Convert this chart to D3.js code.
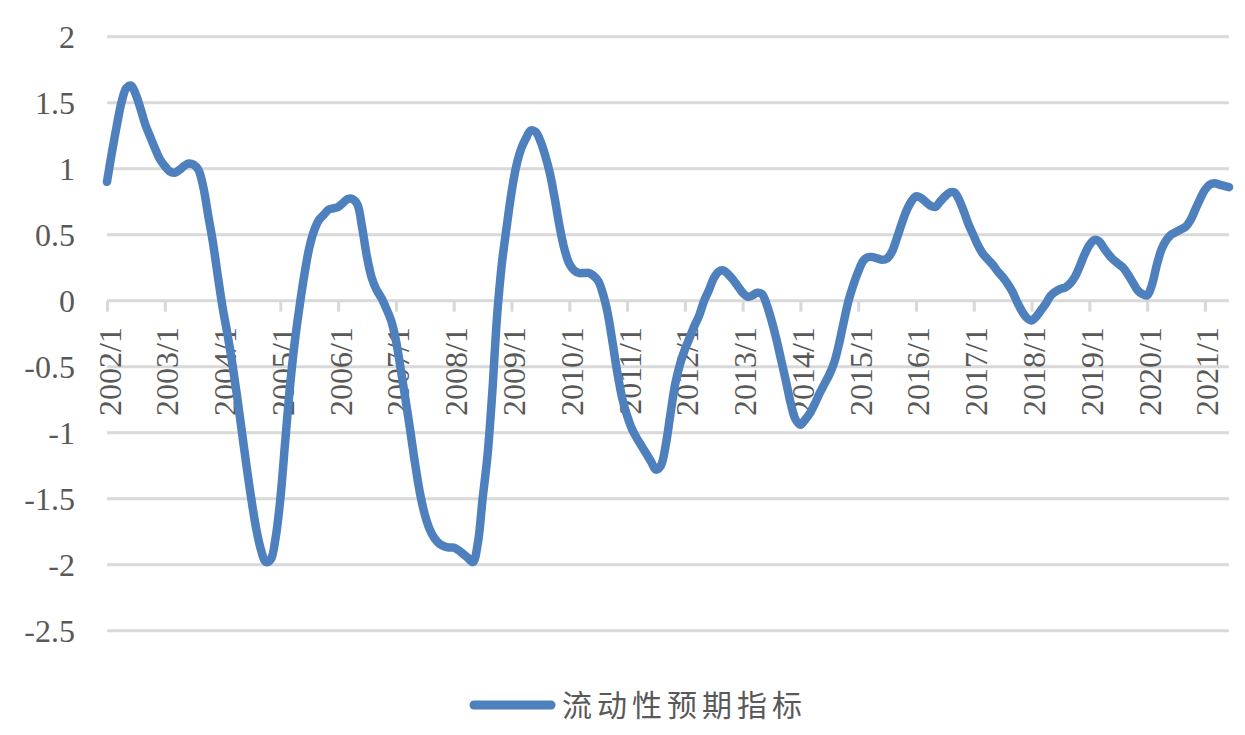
<!DOCTYPE html>
<html>
<head>
<meta charset="utf-8">
<script src="https://cdn.jsdelivr.net/npm/d3@7"></script>
<style>
  html, body { margin: 0; padding: 0; background: #ffffff; }
  svg { display: block; }
</style>
</head>
<body>
<svg id="chart" width="1245" height="735"></svg>
<script>
// ---- Data (monthly, 2002/1 .. 2021/6) ----
const startYear = 2002;
const startMonth = 1;
const seriesName = "流动性预期指标";
const values = [
  0.90, 1.12, 1.32, 1.50, 1.61, 1.63, 1.56, 1.45, 1.33, 1.24, 1.15, 1.07,
  1.02, 0.98, 0.97, 0.99, 1.02, 1.04, 1.03, 0.99, 0.86, 0.65, 0.44, 0.19,
  -0.05, -0.25, -0.47, -0.72, -0.99, -1.26, -1.51, -1.73, -1.89, -1.98, -1.96, -1.80,
  -1.50, -1.07, -0.65, -0.31, -0.04, 0.20, 0.40, 0.53, 0.61, 0.65, 0.69, 0.70,
  0.71, 0.74, 0.77, 0.77, 0.73, 0.55, 0.33, 0.17, 0.08, 0.02, -0.06, -0.15,
  -0.30, -0.52, -0.75, -0.99, -1.24, -1.46, -1.62, -1.73, -1.80, -1.84, -1.86, -1.87,
  -1.87, -1.89, -1.92, -1.95, -1.98, -1.84, -1.50, -1.18, -0.70, -0.12, 0.28, 0.56,
  0.82, 1.02, 1.15, 1.23, 1.29, 1.28, 1.21, 1.10, 0.96, 0.77, 0.56, 0.39,
  0.28, 0.23, 0.21, 0.21, 0.21, 0.19, 0.15, 0.05, -0.10, -0.32, -0.55, -0.74,
  -0.87, -0.97, -1.04, -1.10, -1.16, -1.22, -1.28, -1.25, -1.10, -0.86, -0.63, -0.48,
  -0.37, -0.28, -0.19, -0.11, 0.00, 0.08, 0.17, 0.22, 0.23, 0.20, 0.16, 0.11,
  0.06, 0.03, 0.04, 0.06, 0.05, -0.03, -0.15, -0.29, -0.45, -0.61, -0.78, -0.90,
  -0.94, -0.90, -0.85, -0.78, -0.70, -0.63, -0.56, -0.47, -0.33, -0.16, 0.00, 0.12,
  0.22, 0.30, 0.33, 0.33, 0.32, 0.31, 0.32, 0.37, 0.47, 0.58, 0.68, 0.75,
  0.79, 0.78, 0.75, 0.72, 0.71, 0.75, 0.79, 0.82, 0.82, 0.76, 0.67, 0.57,
  0.49, 0.41, 0.35, 0.31, 0.27, 0.22, 0.18, 0.13, 0.07, -0.01, -0.08, -0.13,
  -0.15, -0.12, -0.07, -0.02, 0.04, 0.07, 0.09, 0.10, 0.13, 0.18, 0.26, 0.35,
  0.42, 0.46, 0.45, 0.40, 0.35, 0.31, 0.28, 0.25, 0.20, 0.14, 0.08, 0.05,
  0.04, 0.12, 0.27, 0.39, 0.46, 0.50, 0.52, 0.54, 0.56, 0.61, 0.69, 0.77,
  0.84, 0.88, 0.89, 0.88, 0.87, 0.86
];
const yTicks = [2, 1.5, 1, 0.5, 0, -0.5, -1, -1.5, -2, -2.5];
const yTickLabels = ["2", "1.5", "1", "0.5", "0", "-0.5", "-1", "-1.5", "-2", "-2.5"];

// categories "YYYY/M"
const categories = values.map((v, i) => {
  const m = startMonth - 1 + i;
  return (startYear + Math.floor(m / 12)) + "/" + ((m % 12) + 1);
});
const data = categories.map((c, i) => ({ cat: c, value: values[i] }));

// ---- Layout ----
const svg = d3.select("#chart");
const plotLeft = 107, plotRight = 1229, plotTop = 36.7, plotBottom = 630.7;
const textColor = "#595959";
const gridColor = "#d9d9d9";
const lineColor = "#4e80bd";

const x = d3.scalePoint().domain(categories).range([plotLeft, plotRight]);
const y = d3.scaleLinear().domain([-2.5, 2]).range([plotBottom, plotTop]);

// gridlines
svg.append("g").selectAll("line")
  .data(yTicks)
  .join("line")
  .attr("x1", plotLeft).attr("x2", plotRight)
  .attr("y1", d => y(d)).attr("y2", d => y(d))
  .attr("stroke", gridColor).attr("stroke-width", 3);

// y labels
svg.append("g").selectAll("text")
  .data(yTicks)
  .join("text")
  .attr("x", 75)
  .attr("y", d => y(d))
  .attr("dy", "0.35em")
  .attr("text-anchor", "end")
  .attr("font-family", "'Liberation Serif', 'Times New Roman', serif")
  .attr("font-size", 32)
  .attr("fill", textColor)
  .text((d, i) => yTickLabels[i]);

// x-axis tick marks and labels (every 12 months)
const yearCats = categories.filter((c, i) => i % 12 === 0);
const xAxis = d3.axisBottom(x).tickValues(yearCats).tickSize(11).tickSizeOuter(0);
const gx = svg.append("g").attr("transform", `translate(0,${y(0)})`).call(xAxis);
gx.select(".domain").remove();
gx.selectAll(".tick line").attr("stroke", gridColor).attr("stroke-width", 3);
gx.selectAll(".tick text")
  .attr("font-family", "'Liberation Serif', 'Times New Roman', serif")
  .attr("font-size", 32)
  .attr("fill", textColor)
  .attr("text-anchor", "end")
  .attr("transform", "rotate(-90)")
  .attr("x", -(327 - y(0)))
  .attr("y", 0)
  .attr("dy", "13");

// line
const line = d3.line()
  .x(d => x(d.cat))
  .y(d => y(d.value))
  .curve(d3.curveCatmullRom.alpha(0.5));

svg.append("path")
  .datum(data)
  .attr("fill", "none")
  .attr("stroke", lineColor)
  .attr("stroke-width", 8.5)
  .attr("stroke-linejoin", "round")
  .attr("stroke-linecap", "round")
  .attr("d", line);

// legend
const lg = svg.append("g");
lg.append("line")
  .attr("x1", 474).attr("x2", 551)
  .attr("y1", 705).attr("y2", 705)
  .attr("stroke", lineColor).attr("stroke-width", 9)
  .attr("stroke-linecap", "round");
lg.append("text")
  .attr("x", 562).attr("y", 705)
  .attr("dy", "0.36em")
  .attr("font-family", "'Noto Sans CJK SC', sans-serif")
  .attr("font-size", 30)
  .attr("letter-spacing", "5px")
  .attr("fill", textColor)
  .text(seriesName);
</script>
</body>
</html>
